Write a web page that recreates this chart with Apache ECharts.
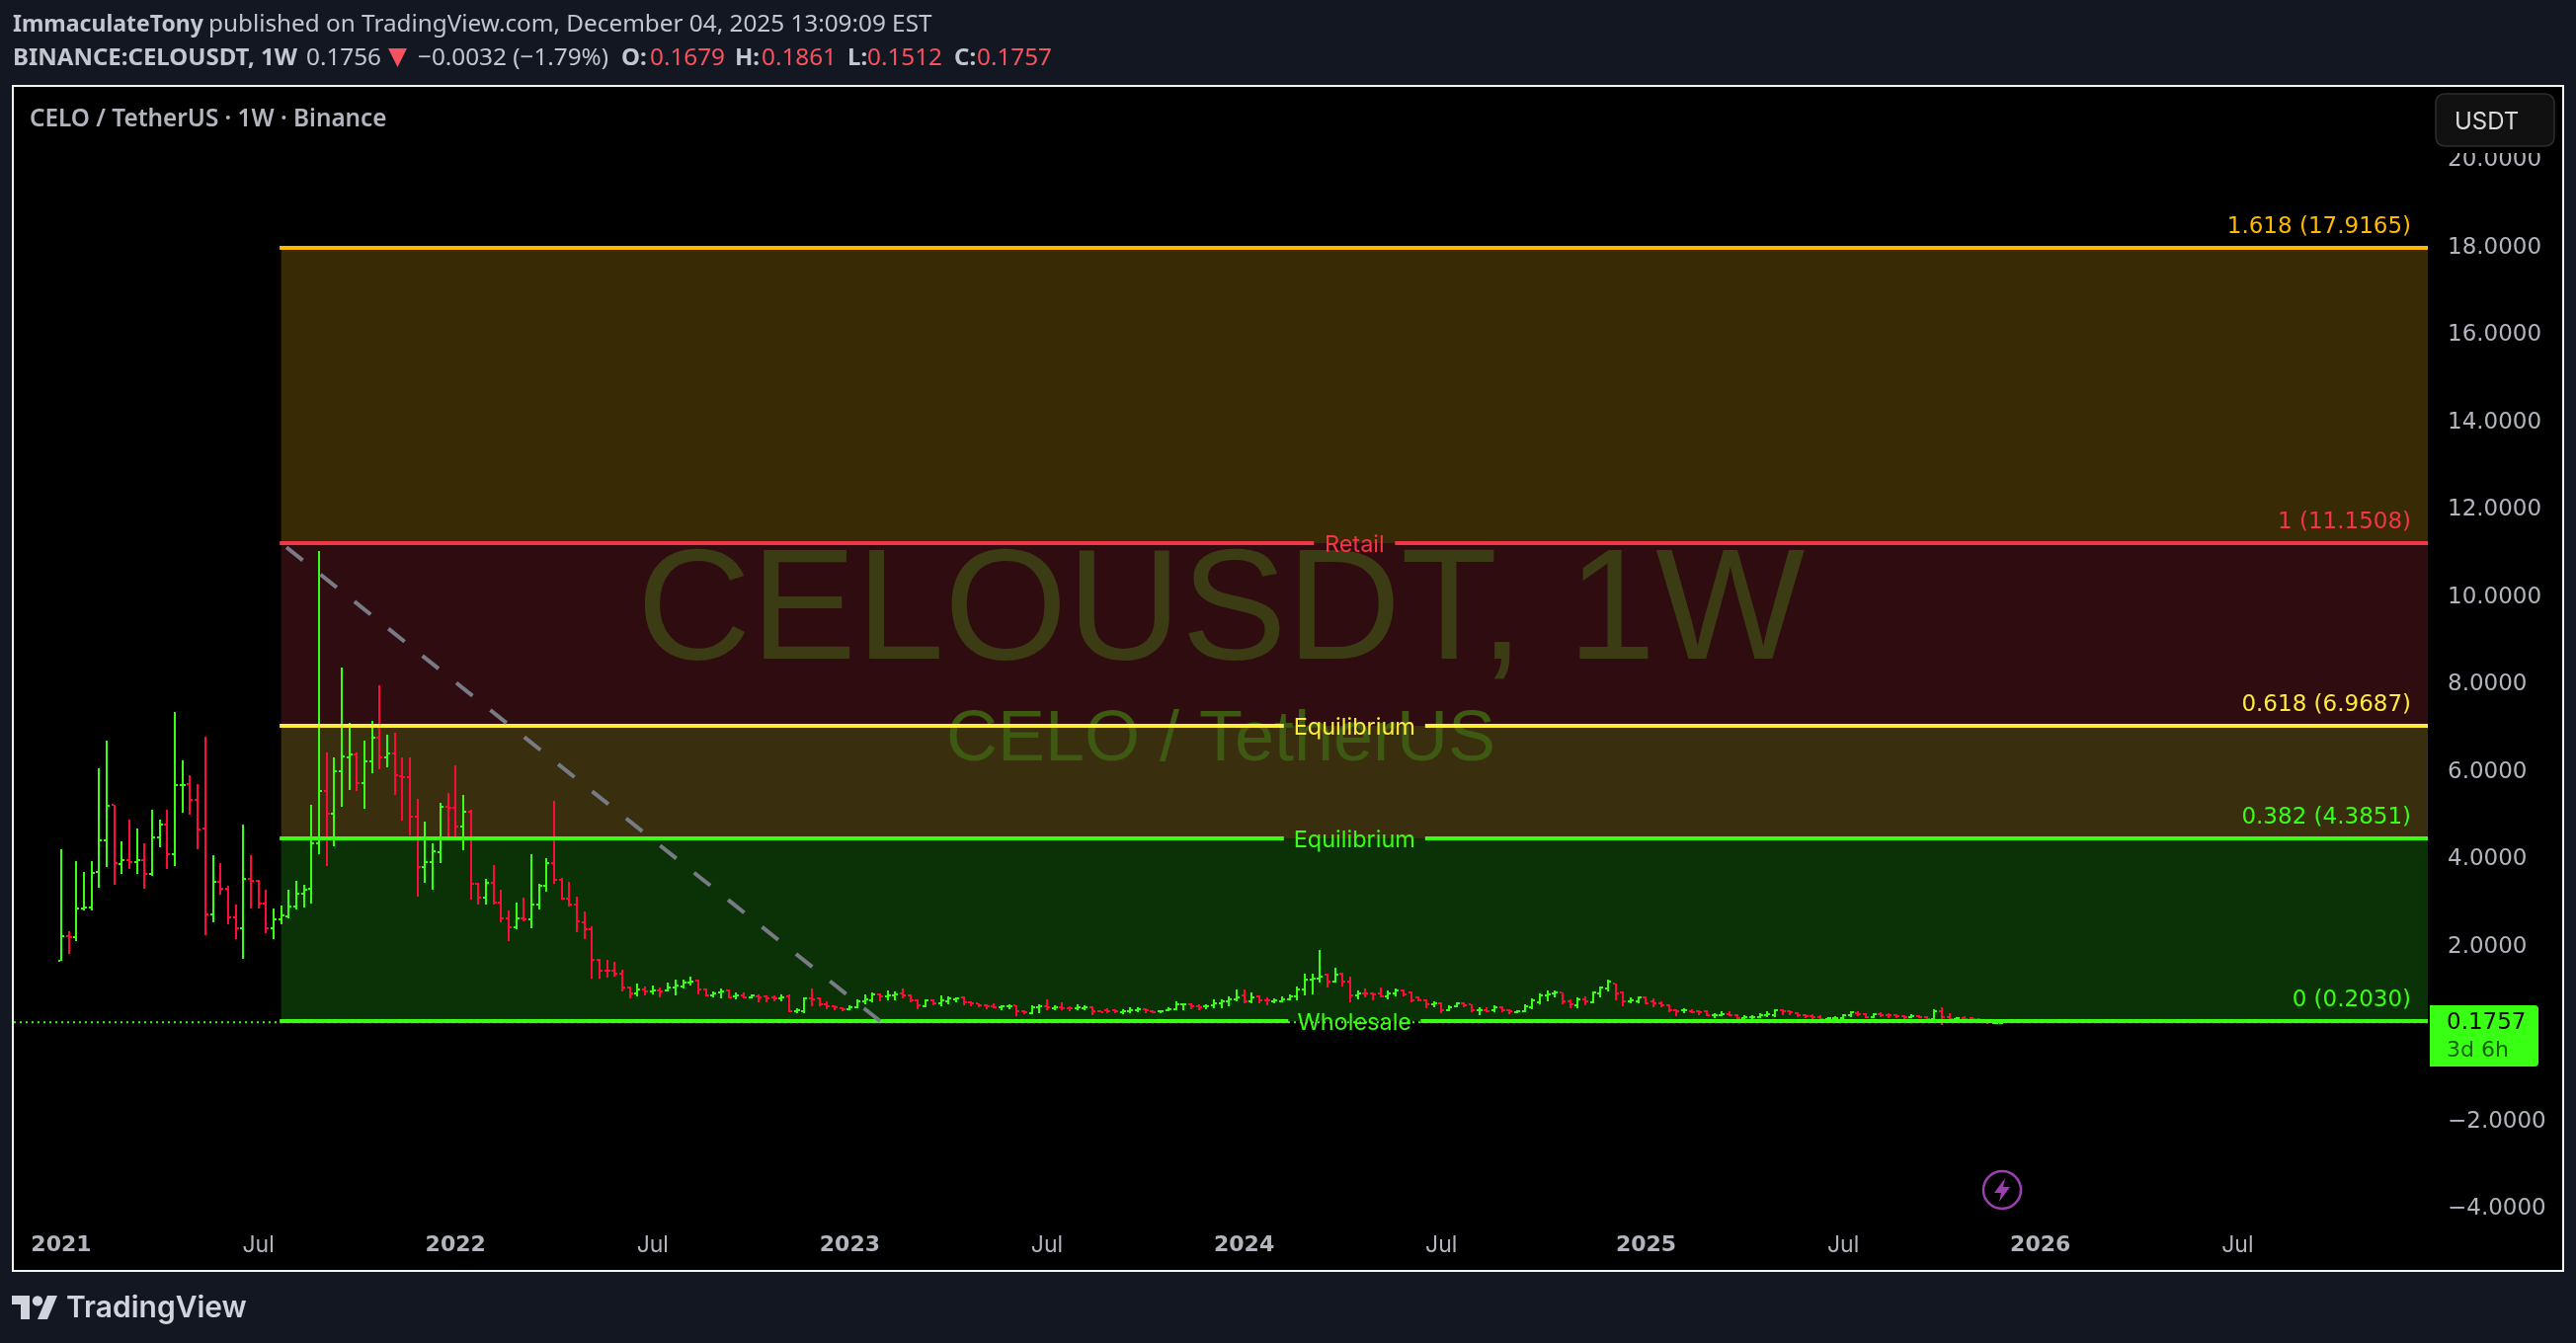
<!DOCTYPE html>
<html>
<head>
<meta charset="utf-8">
<title>CELOUSDT 1W</title>
<style>html,body{margin:0;padding:0;background:#131722}#c{width:2608px;height:1360px}</style>
<script src="https://cdn.jsdelivr.net/npm/echarts@6/dist/echarts.min.js"></script>
</head>
<body>
<div id="c"></div>
<script>
// Weekly OHLC, first bar = week of 2021-01-04, one value per week
const opens = [
1.59,2.16,2.13,2.79,2.81,3.63,4.35,5.15,3.81,3.90,
3.85,3.90,3.57,4.41,4.71,4.03,5.61,5.63,5.27,4.61,
2.65,3.39,3.23,2.58,2.33,3.46,3.41,2.89,2.33,2.53,
2.60,2.83,3.12,3.23,4.27,5.47,4.95,5.92,6.24,6.31,
5.65,6.15,6.69,6.24,6.33,5.81,5.79,4.88,3.73,3.84,
4.07,5.11,5.09,4.66,5.00,3.35,3.03,3.37,2.92,2.55,
2.35,2.55,2.53,2.87,3.30,3.82,3.44,3.01,2.87,2.46,
2.31,1.60,1.36,1.36,1.29,0.97,0.84,0.93,0.88,0.90,
0.90,0.97,1.00,1.08,1.13,0.93,0.79,0.86,0.90,0.77,
0.79,0.75,0.77,0.77,0.75,0.72,0.77,0.43,0.43,0.72,
0.72,0.59,0.54,0.50,0.47,0.52,0.66,0.68,0.81,0.77,
0.79,0.84,0.79,0.68,0.54,0.68,0.61,0.66,0.70,0.75,
0.63,0.61,0.56,0.54,0.52,0.54,0.56,0.43,0.38,0.52,
0.54,0.50,0.52,0.50,0.50,0.50,0.52,0.43,0.45,0.45,
0.41,0.43,0.45,0.47,0.43,0.43,0.45,0.47,0.59,0.59,
0.54,0.54,0.56,0.61,0.66,0.70,0.79,0.66,0.77,0.68,
0.66,0.66,0.70,0.77,0.93,1.15,1.18,1.27,1.11,1.29,
1.11,0.79,0.84,0.84,0.84,0.77,0.84,0.90,0.86,0.75,
0.68,0.59,0.61,0.45,0.54,0.61,0.59,0.45,0.45,0.45,
0.52,0.45,0.41,0.43,0.52,0.63,0.79,0.84,0.86,0.66,
0.56,0.70,0.63,0.84,0.95,1.06,0.86,0.65,0.65,0.75,
0.65,0.61,0.56,0.45,0.45,0.43,0.43,0.43,0.34,0.34,
0.36,0.34,0.27,0.29,0.29,0.34,0.34,0.45,0.43,0.38,
0.34,0.32,0.29,0.25,0.27,0.27,0.34,0.38,0.36,0.29,
0.36,0.34,0.34,0.32,0.29,0.32,0.29,0.25,0.43,0.29,
0.25,0.27,0.27,0.25,0.22,0.16,0.1679];
const highs = [
4.14,2.26,3.87,3.62,3.87,5.99,6.63,5.16,4.32,4.82,
4.61,4.27,5.04,4.82,5.04,7.28,6.17,5.83,5.63,6.72,
4.00,3.82,3.30,2.87,4.70,4.00,3.44,3.21,2.78,2.85,
3.21,3.41,3.32,5.16,10.97,6.35,6.24,8.30,7.03,6.35,
6.63,7.08,7.89,6.76,6.81,6.24,6.24,5.29,4.77,4.27,
5.20,5.43,6.06,5.38,5.04,3.37,3.46,3.77,3.21,2.74,
2.92,3.03,4.03,3.35,3.93,5.25,3.48,3.39,3.05,2.71,
2.37,1.63,1.60,1.56,1.38,1.00,1.06,1.00,1.02,0.97,
1.08,1.15,1.15,1.22,1.15,0.95,0.88,0.95,0.93,0.86,
0.86,0.81,0.81,0.79,0.79,0.81,0.81,0.50,0.75,0.95,
0.75,0.66,0.56,0.52,0.56,0.70,0.81,0.86,0.84,0.90,
0.88,0.95,0.81,0.70,0.70,0.70,0.79,0.77,0.75,0.77,
0.66,0.61,0.59,0.61,0.56,0.59,0.56,0.45,0.56,0.59,
0.70,0.56,0.63,0.54,0.59,0.56,0.54,0.45,0.50,0.47,
0.47,0.52,0.52,0.50,0.45,0.45,0.52,0.66,0.61,0.61,
0.59,0.59,0.70,0.70,0.77,0.93,0.93,0.86,0.79,0.75,
0.72,0.77,0.81,1.00,1.29,1.29,1.83,1.29,1.42,1.31,
1.22,0.90,0.95,0.86,0.97,0.90,0.95,0.93,0.88,0.77,
0.70,0.66,0.63,0.56,0.63,0.63,0.59,0.52,0.52,0.56,
0.54,0.47,0.45,0.59,0.72,0.84,0.90,0.90,0.86,0.70,
0.75,0.77,0.88,0.99,1.15,1.06,0.88,0.75,0.77,0.77,
0.72,0.65,0.59,0.47,0.50,0.47,0.45,0.45,0.38,0.43,
0.43,0.36,0.34,0.34,0.38,0.43,0.47,0.47,0.45,0.41,
0.36,0.36,0.34,0.29,0.32,0.36,0.43,0.43,0.38,0.38,
0.41,0.38,0.36,0.34,0.36,0.34,0.32,0.47,0.52,0.38,
0.29,0.32,0.29,0.27,0.22,0.20,0.1861];
const lows = [
1.58,1.74,2.03,2.74,2.74,3.26,3.73,3.33,3.57,3.69,
3.57,3.23,3.53,4.18,3.69,3.75,4.97,4.93,4.14,2.17,
2.47,3.10,2.42,2.08,1.63,2.78,2.79,2.22,2.08,2.42,
2.55,2.76,2.81,2.89,4.03,3.75,4.20,5.11,5.49,5.47,
5.07,5.88,5.97,6.01,5.38,4.79,4.45,3.05,3.37,3.21,
3.82,4.34,4.36,4.12,2.98,2.87,2.87,2.87,2.47,2.03,
2.31,2.49,2.33,2.76,3.17,3.35,2.98,2.83,2.24,2.08,
1.17,1.17,1.20,1.22,0.88,0.72,0.77,0.79,0.81,0.75,
0.88,0.79,0.95,1.02,0.81,0.77,0.75,0.72,0.72,0.70,
0.72,0.72,0.63,0.63,0.66,0.66,0.41,0.38,0.38,0.54,
0.54,0.47,0.45,0.43,0.45,0.50,0.59,0.63,0.66,0.68,
0.68,0.72,0.63,0.47,0.52,0.56,0.54,0.59,0.63,0.56,
0.54,0.52,0.47,0.50,0.45,0.47,0.32,0.36,0.36,0.38,
0.45,0.45,0.45,0.43,0.45,0.45,0.34,0.41,0.38,0.38,
0.36,0.38,0.41,0.38,0.38,0.38,0.43,0.45,0.45,0.47,
0.45,0.47,0.50,0.50,0.54,0.66,0.61,0.61,0.61,0.56,
0.61,0.63,0.68,0.68,0.79,0.81,1.09,0.97,1.09,1.00,
0.63,0.70,0.75,0.68,0.75,0.70,0.77,0.77,0.63,0.66,
0.50,0.52,0.38,0.43,0.52,0.52,0.41,0.34,0.41,0.41,
0.41,0.36,0.38,0.41,0.47,0.59,0.66,0.75,0.59,0.50,
0.50,0.56,0.61,0.75,0.88,0.68,0.54,0.61,0.61,0.59,
0.52,0.52,0.41,0.32,0.38,0.38,0.34,0.32,0.27,0.32,
0.32,0.25,0.20,0.25,0.27,0.29,0.29,0.34,0.34,0.29,
0.27,0.25,0.20,0.20,0.20,0.25,0.29,0.32,0.27,0.27,
0.29,0.27,0.27,0.25,0.27,0.27,0.22,0.25,0.11,0.22,
0.22,0.20,0.18,0.15,0.13,0.13,0.1512];
const closes = [
2.16,2.13,2.79,2.81,3.59,4.35,5.14,3.82,3.90,3.85,
3.90,3.57,4.41,4.71,4.03,5.61,5.62,5.27,4.59,2.65,
3.39,3.23,2.58,2.33,3.46,3.41,2.89,2.33,2.53,2.62,
2.83,3.12,3.21,4.27,5.47,4.95,5.92,6.26,6.31,5.65,
6.15,6.69,6.24,6.33,5.83,5.80,4.88,3.73,3.84,4.09,
5.11,5.09,4.66,5.00,3.35,3.03,3.37,2.92,2.55,2.35,
2.55,2.53,2.87,3.30,3.82,3.44,3.01,2.87,2.49,2.31,
1.60,1.36,1.35,1.29,0.97,0.84,0.93,0.88,0.90,0.89,
0.97,1.02,1.08,1.11,0.93,0.79,0.84,0.88,0.75,0.79,
0.75,0.79,0.75,0.72,0.72,0.75,0.43,0.45,0.72,0.70,
0.59,0.54,0.52,0.47,0.52,0.66,0.70,0.81,0.77,0.79,
0.81,0.79,0.68,0.56,0.68,0.61,0.68,0.72,0.72,0.63,
0.61,0.56,0.54,0.52,0.54,0.55,0.43,0.41,0.52,0.54,
0.52,0.52,0.50,0.49,0.52,0.52,0.43,0.42,0.43,0.43,
0.43,0.45,0.47,0.45,0.42,0.44,0.47,0.59,0.60,0.54,
0.53,0.55,0.61,0.66,0.70,0.75,0.66,0.75,0.68,0.67,
0.67,0.70,0.77,0.93,1.15,1.18,1.22,1.11,1.27,1.11,
0.79,0.84,0.83,0.81,0.77,0.84,0.90,0.81,0.68,0.68,
0.59,0.61,0.45,0.52,0.61,0.56,0.45,0.46,0.44,0.52,
0.45,0.43,0.43,0.54,0.68,0.79,0.81,0.85,0.66,0.59,
0.70,0.66,0.86,0.97,1.11,0.84,0.65,0.68,0.75,0.61,
0.61,0.56,0.45,0.44,0.46,0.42,0.42,0.34,0.35,0.36,
0.34,0.27,0.29,0.30,0.34,0.36,0.45,0.43,0.41,0.34,
0.32,0.29,0.25,0.27,0.28,0.34,0.41,0.36,0.29,0.36,
0.34,0.33,0.32,0.29,0.32,0.29,0.25,0.43,0.29,0.25,
0.27,0.26,0.25,0.22,0.18,0.17,0.1757];

// X axis: week index of each label, and its text
const tickWeeks  = [0,26,52,78,104,130,156,182,209,235,261,287];
const tickLabels = ['2021','Jul','2022','Jul','2023','Jul','2024','Jul','2025','Jul','2026','Jul'];

// Fibonacci levels
const fibRatios = ['0','0.382','0.618','1','1.618'];
const fibPrices = [0.2030,4.3851,6.9687,11.1508,17.9165];
const fibNames  = ['Wholesale','Equilibrium','Equilibrium','Retail',''];
const fibStartWeek = 29;
// Trend line end points [week, price]
const trendLine = [[29,11.1508],[108,0.2030]];
const lastPrice = 0.1757;

// styles
const GREEN='#39ff14', RED='#ff0a3c';
const fibColors = [GREEN,GREEN,'#ffeb3b','#f23645','#ffb900'];
const bandColors = ['#0b3206','#392e0e','#2f0c10','#372a05'];
const gapHalf = [67,71.5,71.5,41,0];
const X_MIN=-6.25, X_MAX=312.1;
const UI='Inter, "Noto Sans", sans-serif';
const NUM='"DejaVu Sans", sans-serif';
const HEAD='"Noto Sans", sans-serif';

const weeks = opens.map((_,i)=>i);
const ohlc = weeks.map(i=>[i,opens[i],highs[i],lows[i],closes[i]]);
const bands = fibPrices.slice(0,-1).map((p,i)=>[p,fibPrices[i+1],i]);
const levels = fibPrices.map((p,i)=>[p,i]);

function renderBar(params,api){
  const i=api.value(0);
  const x=Math.round(api.coord([i,0])[0]);
  const yO=Math.round(api.coord([i,api.value(1)])[1]);
  const yH=Math.round(api.coord([i,api.value(2)])[1]);
  const yL=Math.round(api.coord([i,api.value(3)])[1]);
  const yC=Math.round(api.coord([i,api.value(4)])[1]);
  const fill=api.value(4)>=api.value(1)?GREEN:RED;
  const r=(a,b,w,h)=>({type:'rect',shape:{x:a,y:b,width:w,height:h},style:{fill}});
  return {type:'group',children:[
    r(x-1,yH,2,Math.max(yL-yH,2)),
    r(x-3,yO-1,2,2),
    r(x+1,yC-1,2,2)
  ]};
}
function renderBand(params,api){
  const a=api.coord([fibStartWeek,api.value(1)]);
  const b=api.coord([X_MAX,api.value(0)]);
  return {type:'rect',shape:{x:a[0],y:a[1],width:b[0]-a[0],height:b[1]-a[1]},
    style:{fill:bandColors[api.value(2)]}};
}
function renderLevel(params,api){
  const i=api.value(1), p=api.value(0);
  const a=api.coord([fibStartWeek,p]), b=api.coord([X_MAX,p]);
  const y=Math.round(a[1]), c=(a[0]+b[0])/2, g=gapHalf[i], col=fibColors[i];
  const x0=a[0]-1.5;
  const line=(s,e)=>({type:'rect',shape:{x:s,y:y-2,width:e-s,height:4},style:{fill:col}});
  const kids=[];
  if(g>0){kids.push(line(x0,c-g),line(c+g,b[0]));}else{kids.push(line(x0,b[0]));}
  kids.push({type:'text',z2:5,style:{x:b[0]-17,y:y-21,text:fibRatios[i]+' ('+p.toFixed(4)+')',fill:col,
    font:'23px '+NUM,align:'right',verticalAlign:'middle'}});
  if(fibNames[i]) kids.push({type:'text',z2:5,style:{x:c,y:y+2,text:fibNames[i],fill:col,
    font:'23.5px '+UI,align:'center',verticalAlign:'middle'}});
  return {type:'group',children:kids};
}

const txt=(x,y,text,fill,font,extra)=>({type:'text',z:60,style:Object.assign({x,y,text,fill,font,verticalAlign:'middle'},extra||{})});
const LT='#c3c6cf', BRED='#f7525f';
const boldH='bold 24px '+HEAD, normH='24.3px '+HEAD;
const graphics=[
  {type:'rect',z:-2,shape:{x:13,y:87,width:2582,height:1200},style:{fill:'#000',stroke:'#f4f4f4',lineWidth:2}},
  txt(13,25,'ImmaculateTony',LT,'bold 23px '+HEAD),
  txt(211,25,'published on TradingView.com, December 04, 2025 13:09:09 EST',LT,normH),
  txt(13,59,'BINANCE:CELOUSDT, 1W',LT,boldH),
  txt(310,59,'0.1756',LT,normH),
  {type:'polygon',z:60,shape:{points:[[393,49],[412,49],[402.5,68]]},style:{fill:BRED}},
  txt(423,59,'−0.0032 (−1.79%)',LT,normH),
  txt(629,59,'O:',LT,boldH), txt(658,59,'0.1679',BRED,normH),
  txt(744,59,'H:',LT,boldH), txt(771,59,'0.1861',BRED,normH),
  txt(858,59,'L:',LT,boldH), txt(878,59,'0.1512',BRED,normH),
  txt(966,59,'C:',LT,boldH), txt(989,59,'0.1757',BRED,normH),
  txt(30,121,'CELO / TetherUS · 1W · Binance','#b2b5be','600 24.3px '+HEAD),
  // watermark
  {type:'text',z:1,style:{x:1236,y:703,text:'CELOUSDT, 1W',fill:'#3c3c14',font:'160px "Liberation Sans", Arial, sans-serif',align:'center',verticalAlign:'bottom',lineHeight:160}},
  {type:'text',z:1,style:{x:1236,y:786,text:'CELO / TetherUS',fill:'#3e5a12',font:'72px "Liberation Sans", Arial, sans-serif',align:'center',verticalAlign:'bottom',lineHeight:72}},
  // currency button
  {type:'rect',z:50,shape:{x:2458,y:89,width:136,height:66},style:{fill:'#000'}},
  {type:'rect',z:51,shape:{x:2466,y:95,width:120,height:53,r:9},style:{fill:'#111',stroke:'#2e2e2e',lineWidth:1.5}},
  txt(2485,123.5,'USDT','#dbdbdb','24px '+UI),
  // last price tag
  {type:'rect',z:52,shape:{x:2460,y:1018,width:110,height:62,r:[0,4,4,0]},style:{fill:GREEN}},
  txt(2477,1036,'0.1757','#0a0a0a','23px '+NUM),
  txt(2477,1064,'3d 6h','#15640a','22px '+NUM),
  // lightning event marker
  {type:'circle',z:52,shape:{cx:2027,cy:1205,r:19},style:{fill:'none',stroke:'#9c3fb0',lineWidth:2.5}},
  {type:'polygon',z:52,shape:{points:[[2030,1193],[2019,1208],[2026,1208],[2024,1217],[2035,1202],[2028,1202]]},style:{fill:'#9c3fb0'}},
  // footer logo
  {type:'polygon',z:60,shape:{points:[[12,1312],[30,1312],[30,1336],[21,1336],[21,1321],[12,1321]]},style:{fill:'#d1d4dc'}},
  {type:'polygon',z:60,shape:{points:[[38,1336],[48,1336],[58,1312],[48,1312]]},style:{fill:'#d1d4dc'}},
  {type:'circle',z:60,shape:{cx:38,cy:1317.4,r:5.2},style:{fill:'#d1d4dc'}},
  txt(67,1325,'TradingView','#d1d4dc','600 30px '+UI)
];

const chart=echarts.init(document.getElementById('c'),null,{renderer:'canvas',width:2608,height:1360});
chart.setOption({
  animation:false,
  backgroundColor:'#131722',
  graphic:{elements:graphics},
  grid:{left:14,right:150,top:158.5,bottom:140},
  xAxis:{type:'value',min:X_MIN,max:X_MAX,splitLine:{show:false},axisLine:{show:false},axisTick:{show:false},
    axisLabel:{customValues:tickWeeks,margin:30,color:'#b2b5be',fontFamily:UI,fontSize:23,hideOverlap:false,showMinLabel:true,showMaxLabel:true,
      formatter:v=>{const s=tickLabels[tickWeeks.indexOf(v)];return s==='Jul'?s:'{y|'+s+'}';},
      rich:{y:{fontFamily:NUM,fontSize:22,fontWeight:'bold',color:'#b2b5be'}}}},
  yAxis:{type:'value',position:'right',min:-4,max:20,interval:2,splitLine:{show:false},axisLine:{show:false},axisTick:{show:false},
    axisLabel:{align:'left',margin:20,color:'#b2b5be',fontFamily:NUM,fontSize:23,
      formatter:v=>'{a|'+(v<0?'−':'')+Math.abs(v).toFixed(4)+'}',
      rich:{a:{fontFamily:NUM,fontSize:23,color:'#b2b5be',padding:[8,0,0,0],lineHeight:26}}}},
  series:[
    {type:'custom',name:'bands',z:0,clip:true,silent:true,data:bands,encode:{y:[0,1]},renderItem:renderBand},
    {type:'custom',name:'CELOUSDT',z:3,clip:true,silent:true,data:ohlc,encode:{x:0,y:[1,2,3,4]},renderItem:renderBar},
    {type:'line',name:'last',z:3,silent:true,showSymbol:false,data:[[X_MIN,lastPrice],[X_MAX,lastPrice]],
      lineStyle:{color:GREEN,width:2,type:[2,4]}},
    {type:'custom',name:'levels',z:4,clip:false,silent:true,data:levels,encode:{y:0},renderItem:renderLevel},
    {type:'line',name:'trend',z:5,silent:true,showSymbol:false,data:trendLine,
      lineStyle:{color:'#787b86',width:4,type:[21,23],dashOffset:37}}
  ]
});
</script>
</body>
</html>
